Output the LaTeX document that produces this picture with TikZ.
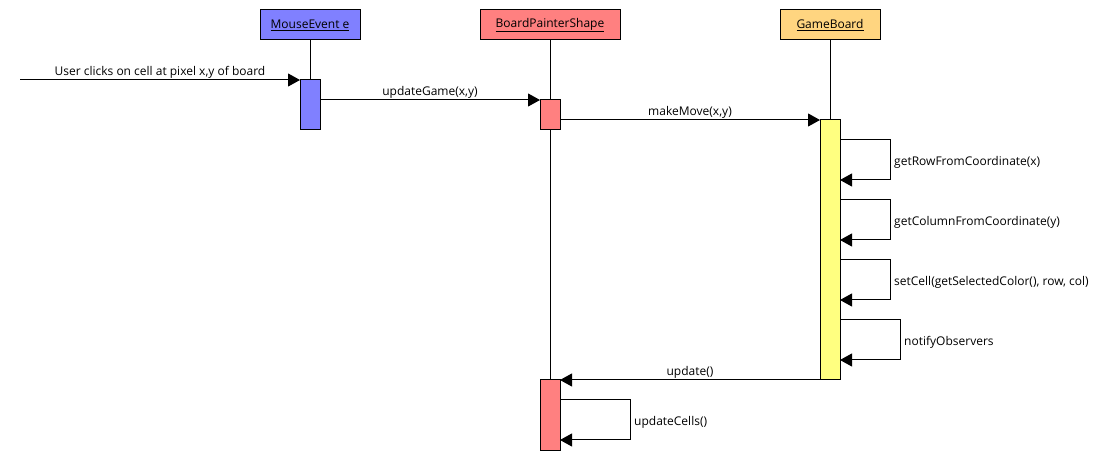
\documentclass[tikz,border=0pt]{standalone}
\usepackage{fontspec}
\setmainfont{Open Sans}
\usetikzlibrary{arrows.meta}
\definecolor{evblue}{HTML}{8080FF}
\definecolor{bpred}{HTML}{FF8080}
\definecolor{gborange}{HTML}{FFD580}
\definecolor{actyellow}{HTML}{FFFF80}
\begin{document}
\begin{tikzpicture}[x=1pt,y=-1pt,
  every node/.style={font=\fontsize{12}{14}\selectfont, inner sep=0pt},
  objbox/.style={draw, line width=1pt, minimum height=30pt, anchor=north, outer sep=0pt},
  actbox/.style={draw, line width=1pt, minimum width=20pt, anchor=north, outer sep=0pt},
  lifeline/.style={line width=1pt},
  msg/.style={line width=1pt, -{Triangle[length=12pt,width=13pt]}},
  lbl/.style={anchor=base}]
\useasboundingbox (0,0) rectangle (1120,470);
% participants
\node[objbox, fill=evblue, minimum width=100pt] (me) at (310,10) {\underline{MouseEvent e}};
\node[objbox, fill=bpred, minimum width=140pt] (bp) at (550,10) {\underline{BoardPainterShape}};
\node[objbox, fill=gborange, minimum width=100pt] (gb) at (830,10) {\underline{GameBoard}};
% lifelines
\draw[lifeline] (me.south) -- (310,80);
\draw[lifeline] (bp.south) -- (550,380);
\draw[lifeline] (gb.south) -- (830,120);
% activations
\node[actbox, fill=evblue, minimum height=50pt] (a1) at (310,80) {};
\node[actbox, fill=bpred, minimum height=30pt] (a2) at (550,100) {};
\node[actbox, fill=actyellow, minimum height=260pt] (a3) at (830,120) {};
\node[actbox, fill=bpred, minimum height=70pt] (a4) at (550,380) {};
% messages
\coordinate (start) at (20,80);
\draw[msg] (start) -- (a1.west |- 0,80);
\node[lbl] at (160,76) {User clicks on cell at pixel x,y of board};
\draw[msg] (a1.east |- 0,100) -- (a2.west |- 0,100);
\node[lbl] at (430,96) {updateGame(x,y)};
\draw[msg] (a2.east |- 0,120) -- (a3.west |- 0,120);
\node[lbl] at (690,116) {makeMove(x,y)};
% self calls on GameBoard
\draw[msg] (a3.east |- 0,140) -- (890,140) -- (890,180) -- (a3.east |- 0,180);
\node[lbl, anchor=base west] at (894,166) {getRowFromCoordinate(x)};
\draw[msg] (a3.east |- 0,200) -- (890,200) -- (890,240) -- (a3.east |- 0,240);
\node[lbl, anchor=base west] at (894,226) {getColumnFromCoordinate(y)};
\draw[msg] (a3.east |- 0,260) -- (890,260) -- (890,300) -- (a3.east |- 0,300);
\node[lbl, anchor=base west] at (894,286) {setCell(getSelectedColor(), row, col)};
\draw[msg] (a3.east |- 0,320) -- (900,320) -- (900,360) -- (a3.east |- 0,360);
\node[lbl, anchor=base west] at (904,346) {notifyObservers};
% callback
\draw[msg] (a3.west |- 0,380) -- (a4.east |- 0,380);
\node[lbl] at (690,376) {update()};
\draw[msg] (a4.east |- 0,400) -- (630,400) -- (630,440) -- (a4.east |- 0,440);
\node[lbl, anchor=base west] at (634,426) {updateCells()};
\end{tikzpicture}
\end{document}
